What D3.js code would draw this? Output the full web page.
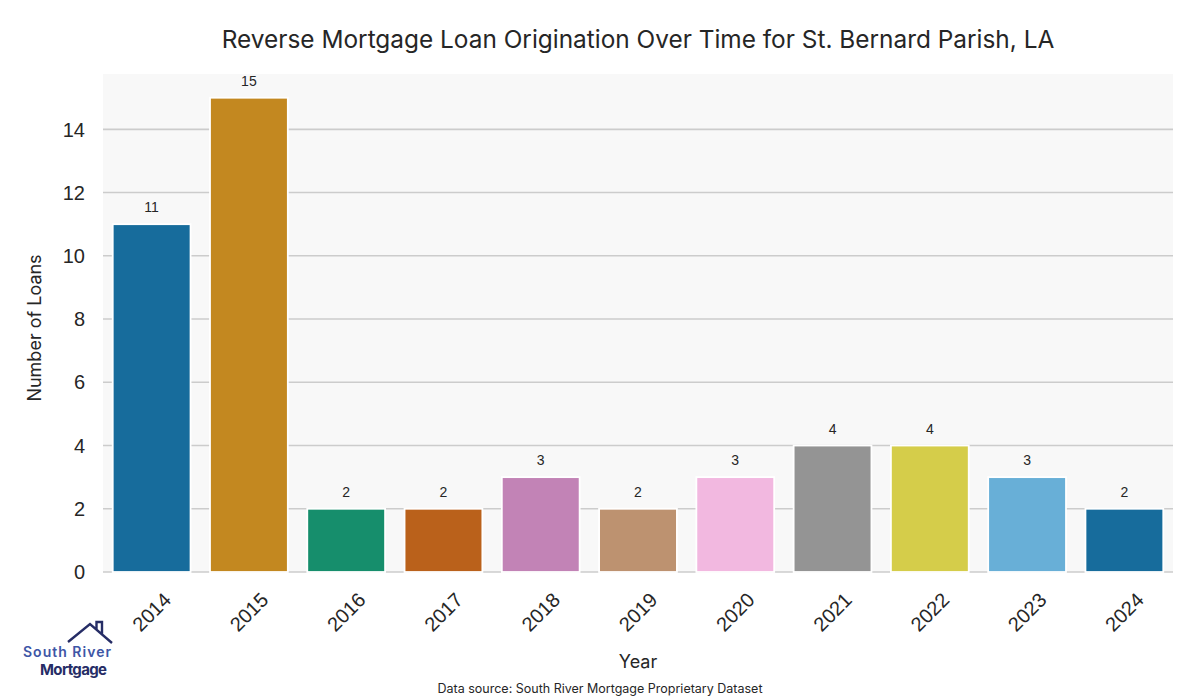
<!DOCTYPE html>
<html><head><meta charset="utf-8">
<script src="https://cdn.jsdelivr.net/npm/d3@7"></script>
<style>body{margin:0;background:#fff}svg{display:block}</style>
</head><body>
<svg id="c" width="1200" height="700"></svg>
<script>
const years = ["2014","2015","2016","2017","2018","2019","2020","2021","2022","2023","2024"];
const loans = [11,15,2,2,3,2,3,4,4,3,2];
const colors = ["#176c9c","#c38820","#168e6c","#ba611b","#c283b6","#bd9270","#f2b8e0","#949494","#d5cd4a","#68afd7","#176c9c"];
const yTicks = [0,2,4,6,8,10,12,14];

const svg = d3.select("#c");
const L=103, R=1173, T=74, B=572;
const x = d3.scaleBand().domain(years).range([L,R]).paddingInner(0.2).paddingOuter(0.1);
const y = d3.scaleLinear().domain([0,15.75]).range([B,T]);

svg.append("rect").attr("x",L).attr("y",T).attr("width",R-L).attr("height",B-T).attr("fill","#f8f8f8");

svg.append("g").selectAll("line").data(yTicks).join("line")
  .attr("x1",L).attr("x2",R).attr("y1",d=>y(d)).attr("y2",d=>y(d))
  .attr("stroke","#cccccc").attr("stroke-width",1.6);

svg.append("g").selectAll("text").data(yTicks).join("text")
  .attr("x",L-18).attr("y",d=>y(d)).attr("dy","0.36em").attr("text-anchor","end")
  .attr("font-family","Liberation Sans, Arial, sans-serif").attr("font-size",20).attr("fill","#262626")
  .text(d=>d);

svg.append("g").selectAll("rect").data(loans).join("rect")
  .attr("x",(d,i)=>x(years[i])).attr("width",x.bandwidth())
  .attr("y",d=>y(d)).attr("height",d=>y(0)-y(d))
  .attr("fill",(d,i)=>colors[i]).attr("stroke","#ffffff").attr("stroke-width",1.8);

svg.append("g").selectAll("text").data(loans).join("text")
  .attr("x",(d,i)=>x(years[i])+x.bandwidth()/2).attr("y",d=>y(d)-12)
  .attr("text-anchor","middle").attr("font-family","Liberation Sans, Arial, sans-serif")
  .attr("font-size",14).attr("fill","#262626").text(d=>d);

svg.append("g").selectAll("text").data(years).join("text")
  .attr("transform",d=>`translate(${x(d)+x.bandwidth()/2},${612}) rotate(-45)`)
  .attr("text-anchor","middle").attr("dy","0.35em")
  .attr("font-family","Liberation Sans, Arial, sans-serif").attr("font-size",20).attr("fill","#262626")
  .text(d=>d);

svg.append("text").attr("x",(L+R)/2).attr("y",48).attr("text-anchor","middle")
  .attr("font-family","Inter, Lato, sans-serif").attr("font-size",24.4).attr("fill","#262626")
  .text("Reverse Mortgage Loan Origination Over Time for St. Bernard Parish, LA");

svg.append("text").attr("transform",`translate(41,${(T+B)/2+5}) rotate(-90)`).attr("text-anchor","middle")
  .attr("font-family","Inter, Lato, sans-serif").attr("font-size",18).attr("fill","#262626")
  .text("Number of Loans");

svg.append("text").attr("x",(L+R)/2).attr("y",668).attr("text-anchor","middle")
  .attr("font-family","Inter, Lato, sans-serif").attr("font-size",18).attr("fill","#262626")
  .text("Year");

svg.append("text").attr("x",600).attr("y",693).attr("text-anchor","middle")
  .attr("font-family","Inter, Lato, sans-serif").attr("font-size",12.5).attr("fill","#262626")
  .text("Data source: South River Mortgage Proprietary Dataset");

// logo
const lg = svg.append("g");
lg.append("path").attr("d","M68,642 L90,624 L112,643 M96.5,629 L96.5,622 L102,622 L102,634")
  .attr("fill","none").attr("stroke","#262d66").attr("stroke-width",2.4).attr("stroke-linejoin","miter");
lg.append("text").attr("x",23).attr("y",657).attr("font-family","Inter, sans-serif").attr("font-weight",600)
  .attr("font-size",14).attr("textLength",88).attr("fill","#3e56a6").text("South River");
lg.append("text").attr("x",40).attr("y",675).attr("font-family","Inter, sans-serif").attr("font-weight",700)
  .attr("font-size",15).attr("textLength",67).attr("fill","#262d66").text("Mortgage");
</script>
</body></html>
